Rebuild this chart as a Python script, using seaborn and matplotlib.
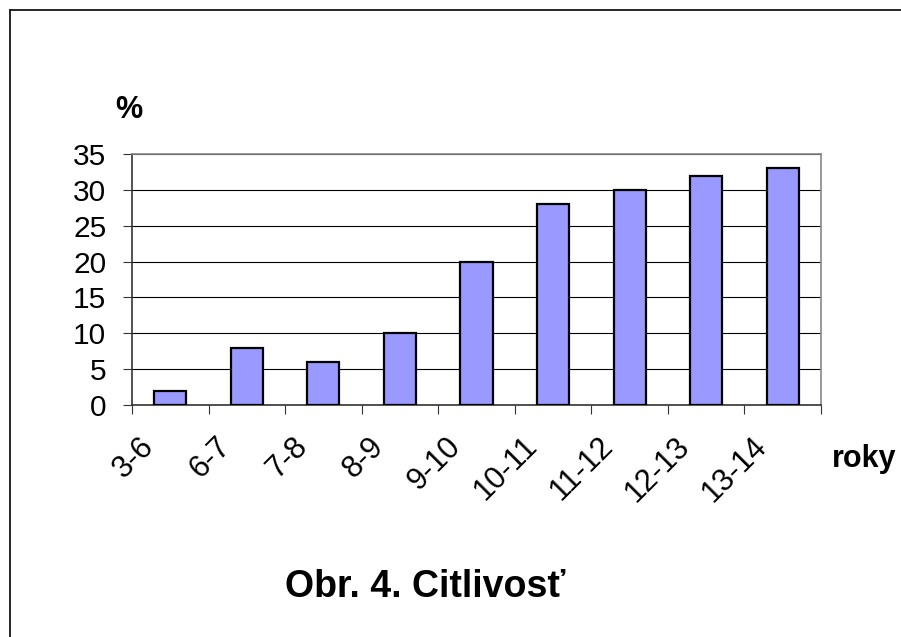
import matplotlib
matplotlib.use('Agg')
import matplotlib.pyplot as plt
import matplotlib.transforms as mtransforms
from matplotlib.lines import Line2D
import seaborn as sns
import numpy as np

# vekove skupiny a podiel v %
vek = ['3-6', '6-7', '7-8', '8-9', '9-10', '10-11', '11-12', '12-13', '13-14']
citlivost = [2, 8, 6, 10, 20, 28, 30, 32, 33]
y_ticks = [0, 5, 10, 15, 20, 25, 30, 35]

sns.set_style('white')
plt.rcParams['font.family'] = ['Liberation Sans', 'DejaVu Sans']
plt.rcParams['text.color'] = 'black'
plt.rcParams['xtick.color'] = 'black'
plt.rcParams['ytick.color'] = 'black'

fig = plt.figure(figsize=(9.01, 6.37), dpi=100)
ax = fig.add_axes([132 / 901, 1 - 405 / 637, (821 - 132) / 901, (405 - 154) / 637])

sns.barplot(x=vek, y=citlivost, color='#9999FF', saturation=1, width=0.42,
            edgecolor='black', linewidth=1.6, ax=ax, zorder=3)

ax.set_xlim(-0.5, len(vek) - 0.5)
ax.set_ylim(0, 35)
ax.set_yticks(y_ticks)
ax.set_yticklabels([str(t) for t in y_ticks], fontsize=21.5)
ax.yaxis.grid(True, color='black', linewidth=0.8, zorder=0)
ax.set_axisbelow(True)
ax.tick_params(axis='y', length=6.5, width=0.8, color='#333333', labelcolor='black',
               pad=12, left=True)

# popisky v strede, ciarky na hraniciach
ax.set_xticks(range(len(vek)))
ax.set_xticks(np.arange(-0.5, len(vek), 1.0), minor=True)
ax.set_xticklabels(vek, fontsize=22, rotation=45, ha='right')
ax.tick_params(axis='x', which='major', length=0, pad=19, labelcolor='black')
ax.tick_params(axis='x', which='minor', length=6.5, width=0.8, color='#333333', bottom=True)
shift = mtransforms.ScaledTranslation(-10 / 100, 0, fig.dpi_scale_trans)
for lbl in ax.get_xticklabels():
    lbl.set_transform(lbl.get_transform() + shift)

ax.set_xlabel('')
ax.set_ylabel('')
for side in ['top', 'right']:
    ax.spines[side].set_color('#888888')
    ax.spines[side].set_linewidth(1.2)
for side in ['left', 'bottom']:
    ax.spines[side].set_color('#333333')
    ax.spines[side].set_linewidth(1.2)

fig.text(115 / 901, 1 - 118 / 637, '%', fontsize=22, fontweight='bold', ha='left', va='baseline')
fig.text(832 / 901, 1 - 467 / 637, 'roky', fontsize=22, fontweight='bold', ha='left', va='baseline')
fig.text(425 / 901, 1 - 597 / 637, 'Obr. 4. Citlivosť', fontsize=27, fontweight='bold',
         ha='center', va='baseline')

# ramcek okolo obrazku
fig.add_artist(Line2D([10 / 901, 1.0], [1 - 10 / 637] * 2, transform=fig.transFigure,
                      color='black', linewidth=1.2))
fig.add_artist(Line2D([10 / 901] * 2, [0.0, 1 - 10 / 637], transform=fig.transFigure,
                      color='black', linewidth=1.2))

fig.savefig('out.png', dpi=100)
